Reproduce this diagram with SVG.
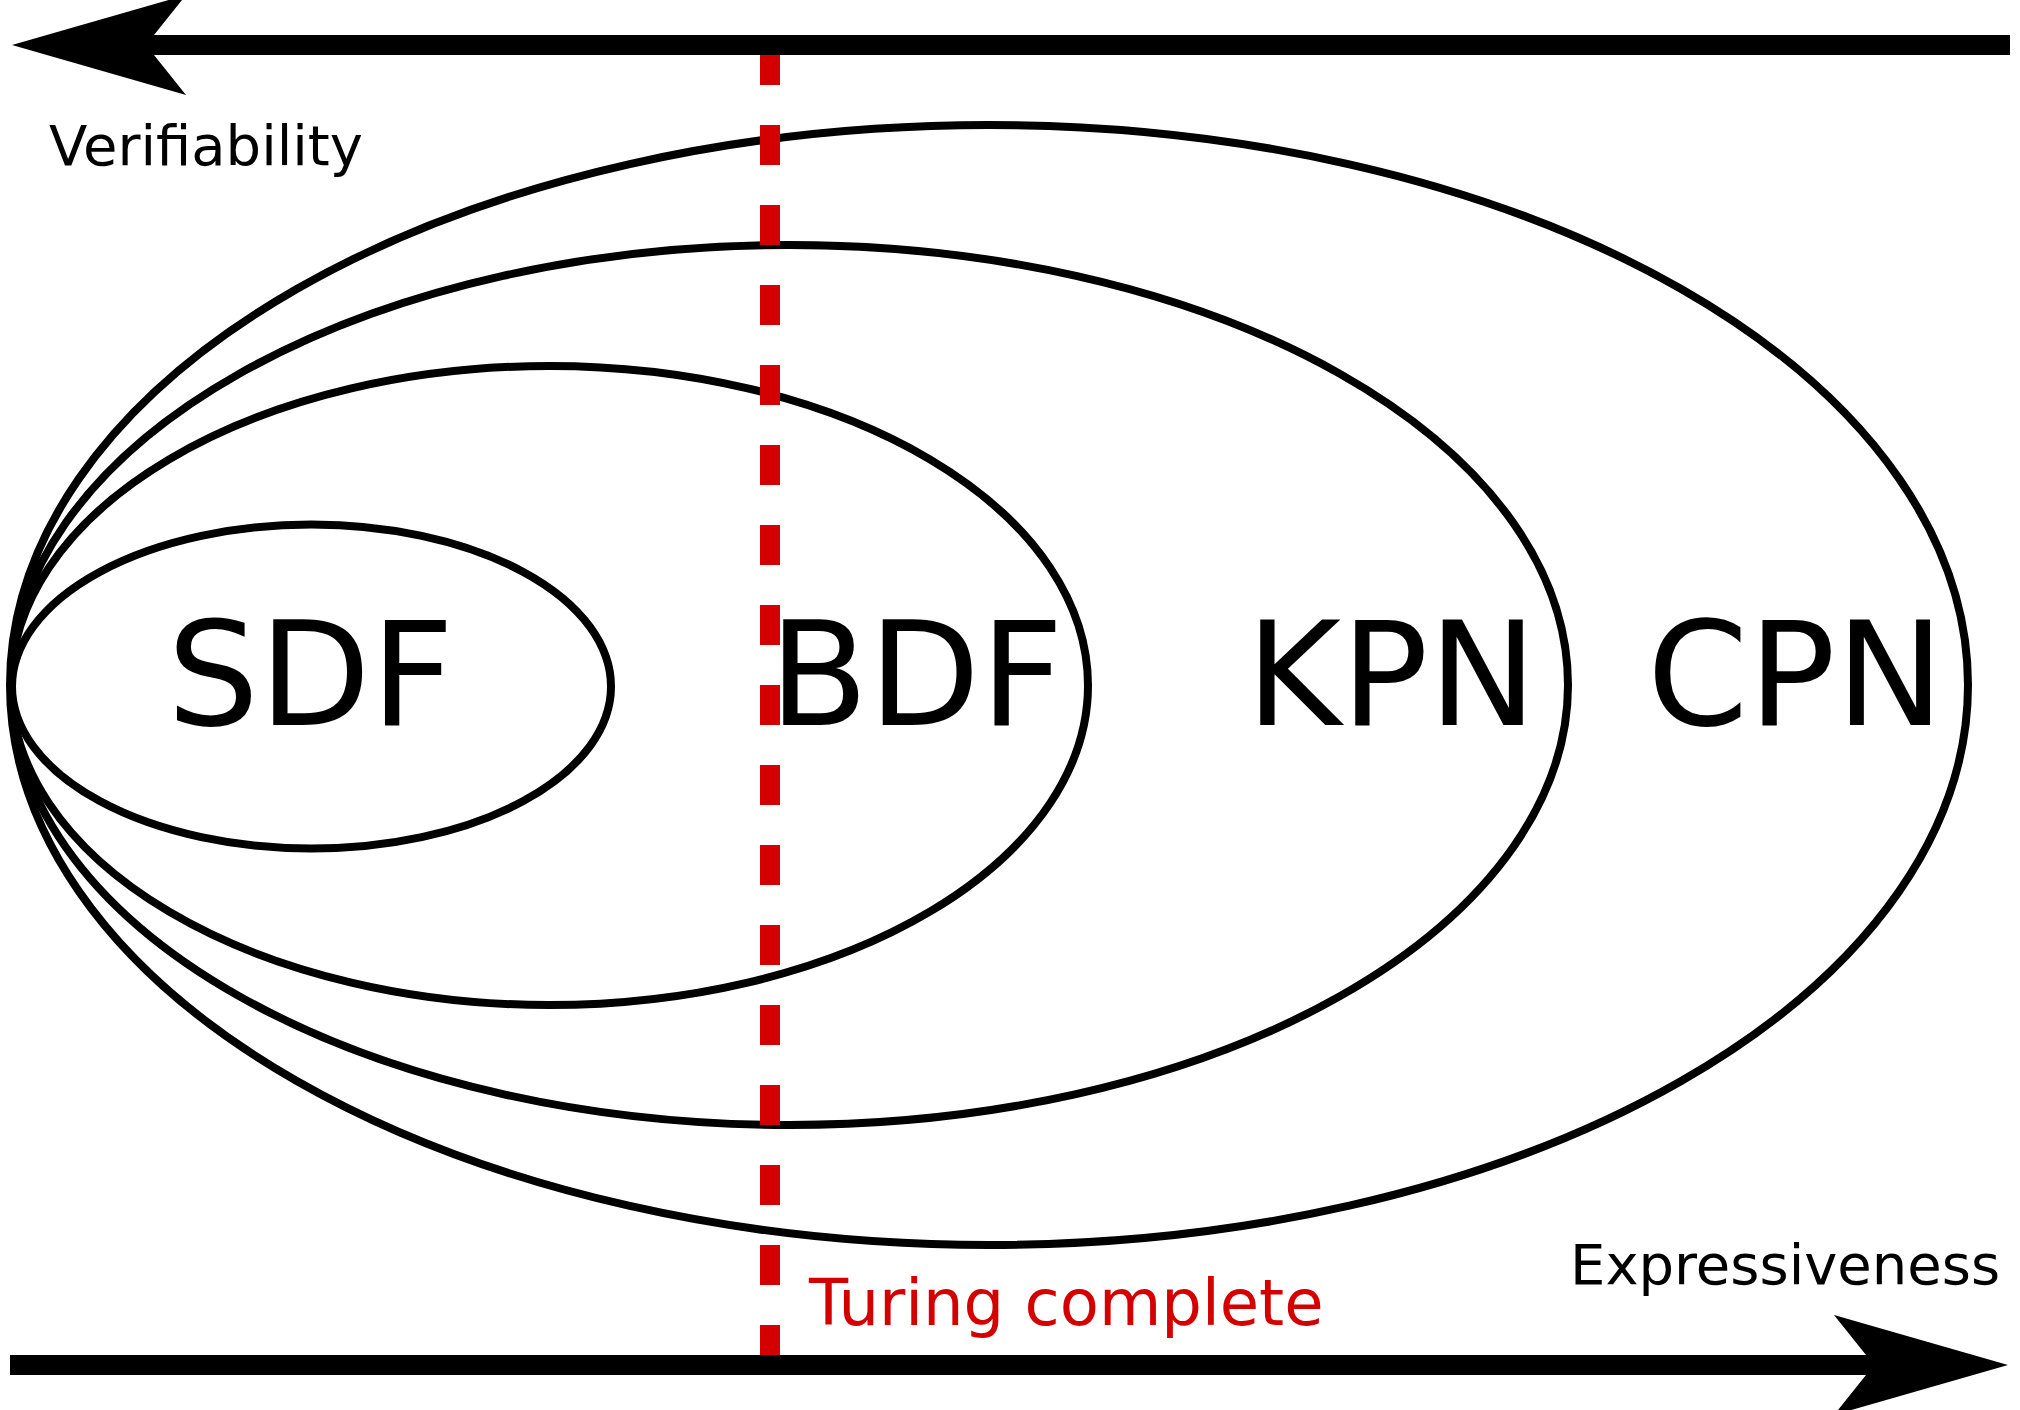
<svg xmlns="http://www.w3.org/2000/svg" width="2020" height="1410" viewBox="0 0 2020 1410">
  <style>
    .set { fill: none; stroke: #000; stroke-width: 8; }
    .big { font-family: "DejaVu Sans", sans-serif; font-size: 145px; fill: #000; }
    .axis-label { font-family: "DejaVu Sans", sans-serif; font-size: 56px; fill: #000; }
    .turing { font-family: "DejaVu Sans", sans-serif; font-size: 64px; fill: #d40000; }
    .axis { stroke: #000; stroke-width: 20; fill: none; }
    .head { fill: #000; stroke: none; }
    .limit { stroke: #d40000; stroke-width: 20; stroke-dasharray: 40 40; fill: none; }
  </style>
  <rect width="2020" height="1410" fill="#fff"/>
  <g id="CPN">
    <ellipse class="set" cx="989" cy="685" rx="979" ry="560"/>
    <text class="big" x="1647" y="725">CPN</text>
  </g>
  <g id="KPN">
    <ellipse class="set" cx="789.5" cy="685" rx="778.5" ry="440"/>
    <text class="big" x="1246" y="725">KPN</text>
  </g>
  <g id="BDF">
    <ellipse class="set" cx="549.5" cy="685.5" rx="538.5" ry="319.5"/>
    <text class="big" x="769" y="725">BDF</text>
  </g>
  <g id="SDF">
    <ellipse class="set" cx="311.5" cy="686.5" rx="299.5" ry="162"/>
    <text class="big" x="167" y="725">SDF</text>
  </g>
  <g id="turing-limit">
    <line class="limit" x1="770" y1="45" x2="770" y2="1365"/>
    <text class="turing" x="809" y="1325">Turing complete</text>
  </g>
  <g id="connectors">
    <line class="axis" x1="2010" y1="45" x2="140" y2="45"/>
    <path class="head" d="M12,45 L186,-5 L146,45 L186,95 Z"/>
    <line class="axis" x1="10" y1="1365" x2="1880" y2="1365"/>
    <path class="head" d="M2008,1365 L1834,1315 L1874,1365 L1834,1415 Z"/>
  </g>
  <g id="labels">
    <text class="axis-label" x="49" y="165">Verifiability</text>
    <text class="axis-label" x="1570" y="1284">Expressiveness</text>
  </g>
</svg>
